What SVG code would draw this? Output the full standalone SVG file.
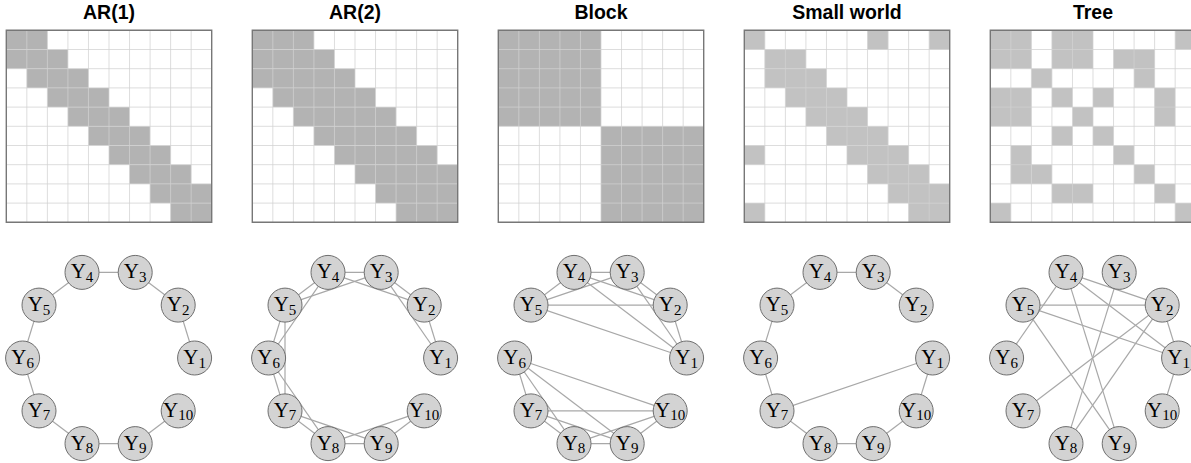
<svg xmlns="http://www.w3.org/2000/svg" xmlns:xlink="http://www.w3.org/1999/xlink" width="1191" height="463" viewBox="0 0 1191 463">
  <style>
    .title { font-family: "Liberation Sans", Arial, sans-serif; font-weight: bold; font-size: 19.5px; fill: #000; text-anchor: middle; }
    .dark { fill: #b3b3b3; }
    .light { fill: #c2c2c2; }
    .grid { fill: none; stroke: #d2d2d2; stroke-opacity: 0.75; stroke-width: 1; vector-effect: non-scaling-stroke; }
    .frame { fill: none; stroke: #777; stroke-width: 1.4; vector-effect: non-scaling-stroke; }
    .edge { stroke: #a8a8a8; stroke-width: 1.2; fill: none; }
    .node circle { fill: #d3d3d3; stroke: #6e6e6e; stroke-width: 1; }
    .node text { font-family: "Liberation Serif", "Times New Roman", serif; font-size: 21px; fill: #000; text-anchor: middle; }
    .node tspan { font-size: 15px; }
  </style>
  <defs>
    <!-- 10x10 grid in unit cells -->
    <g id="grid">
      <path class="grid" d="M1 0V10M2 0V10M3 0V10M4 0V10M5 0V10M6 0V10M7 0V10M8 0V10M9 0V10M0 1H10M0 2H10M0 3H10M0 4H10M0 5H10M0 6H10M0 7H10M0 8H10M0 9H10"/>
      <rect class="frame" x="0" y="0" width="10" height="10"/>
    </g>
  </defs>
  <rect width="1191" height="463" fill="#fff"/>

  <!-- titles -->
  <text class="title" x="109" y="18.5">AR(1)</text>
  <text class="title" x="355" y="18.5">AR(2)</text>
  <text class="title" x="601" y="18.5">Block</text>
  <text class="title" x="847" y="18.5">Small world</text>
  <text class="title" x="1093" y="18.5">Tree</text>

  <!-- adjacency matrices -->
  <g id="matrix-ar1" transform="translate(6.3,30.3) scale(20.54,19.2)">
    <g class="dark">
      <rect x="0" y="0" width="2" height="1"/>
      <rect x="0" y="1" width="3" height="1"/>
      <rect x="1" y="2" width="3" height="1"/>
      <rect x="2" y="3" width="3" height="1"/>
      <rect x="3" y="4" width="3" height="1"/>
      <rect x="4" y="5" width="3" height="1"/>
      <rect x="5" y="6" width="3" height="1"/>
      <rect x="6" y="7" width="3" height="1"/>
      <rect x="7" y="8" width="3" height="1"/>
      <rect x="8" y="9" width="2" height="1"/>
    </g>
    <use xlink:href="#grid"/>
  </g>
  <g id="matrix-ar2" transform="translate(252.3,30.3) scale(20.54,19.2)">
    <g class="dark">
      <rect x="0" y="0" width="3" height="1"/>
      <rect x="0" y="1" width="4" height="1"/>
      <rect x="0" y="2" width="5" height="1"/>
      <rect x="1" y="3" width="5" height="1"/>
      <rect x="2" y="4" width="5" height="1"/>
      <rect x="3" y="5" width="5" height="1"/>
      <rect x="4" y="6" width="5" height="1"/>
      <rect x="5" y="7" width="5" height="1"/>
      <rect x="6" y="8" width="4" height="1"/>
      <rect x="7" y="9" width="3" height="1"/>
    </g>
    <use xlink:href="#grid"/>
  </g>
  <g id="matrix-block" transform="translate(498.3,30.3) scale(20.54,19.2)">
    <g class="dark">
      <rect x="0" y="0" width="5" height="5"/>
      <rect x="5" y="5" width="5" height="5"/>
    </g>
    <use xlink:href="#grid"/>
  </g>
  <g id="matrix-smallworld" transform="translate(744.3,30.3) scale(20.54,19.2)">
    <g class="light">
      <rect x="0" y="0" width="1" height="1"/><rect x="6" y="0" width="1" height="1"/><rect x="9" y="0" width="1" height="1"/>
      <rect x="1" y="1" width="2" height="1"/>
      <rect x="1" y="2" width="3" height="1"/>
      <rect x="2" y="3" width="3" height="1"/>
      <rect x="3" y="4" width="3" height="1"/>
      <rect x="4" y="5" width="3" height="1"/>
      <rect x="0" y="6" width="1" height="1"/><rect x="5" y="6" width="3" height="1"/>
      <rect x="6" y="7" width="3" height="1"/>
      <rect x="7" y="8" width="3" height="1"/>
      <rect x="0" y="9" width="1" height="1"/><rect x="8" y="9" width="2" height="1"/>
    </g>
    <use xlink:href="#grid"/>
  </g>
  <g id="matrix-tree" transform="translate(990.3,30.3) scale(20.54,19.2)">
    <g class="light">
      <rect x="0" y="0" width="2" height="2"/><rect x="3" y="0" width="2" height="2"/><rect x="9" y="0" width="1" height="1"/>
      <rect x="6" y="1" width="2" height="1"/>
      <rect x="2" y="2" width="1" height="1"/><rect x="7" y="2" width="1" height="1"/>
      <rect x="0" y="3" width="2" height="2"/><rect x="3" y="3" width="1" height="1"/><rect x="5" y="3" width="1" height="1"/><rect x="8" y="3" width="1" height="2"/>
      <rect x="4" y="4" width="1" height="1"/>
      <rect x="3" y="5" width="1" height="1"/><rect x="5" y="5" width="1" height="1"/>
      <rect x="1" y="6" width="1" height="2"/><rect x="6" y="6" width="1" height="1"/>
      <rect x="2" y="7" width="1" height="1"/><rect x="7" y="7" width="1" height="1"/>
      <rect x="3" y="8" width="2" height="1"/><rect x="8" y="8" width="1" height="1"/>
      <rect x="0" y="9" width="1" height="1"/><rect x="9" y="9" width="1" height="1"/>
    </g>
    <use xlink:href="#grid"/>
  </g>

  <!-- graph panel 1: AR(1) -->
  <g id="graph-ar1">
    <g id="edges-ar1" class="edge">
      <line x1="194.6" y1="358" x2="178.2" y2="305.1"/>
      <line x1="178.2" y1="305.1" x2="135.2" y2="272.4"/>
      <line x1="135.2" y1="272.4" x2="82" y2="272.4"/>
      <line x1="82" y1="272.4" x2="39" y2="305.1"/>
      <line x1="39" y1="305.1" x2="22.6" y2="358"/>
      <line x1="22.6" y1="358" x2="39" y2="410.9"/>
      <line x1="39" y1="410.9" x2="82" y2="443.6"/>
      <line x1="82" y1="443.6" x2="135.2" y2="443.6"/>
      <line x1="135.2" y1="443.6" x2="178.2" y2="410.9"/>
    </g>
    <g id="ar1-y1" class="node" transform="translate(194.6,358)"><circle r="17"/><text y="6">Y<tspan dy="3.5">1</tspan></text></g>
    <g id="ar1-y2" class="node" transform="translate(178.2,305.1)"><circle r="17"/><text y="6">Y<tspan dy="3.5">2</tspan></text></g>
    <g id="ar1-y3" class="node" transform="translate(135.2,272.4)"><circle r="17"/><text y="6">Y<tspan dy="3.5">3</tspan></text></g>
    <g id="ar1-y4" class="node" transform="translate(82,272.4)"><circle r="17"/><text y="6">Y<tspan dy="3.5">4</tspan></text></g>
    <g id="ar1-y5" class="node" transform="translate(39,305.1)"><circle r="17"/><text y="6">Y<tspan dy="3.5">5</tspan></text></g>
    <g id="ar1-y6" class="node" transform="translate(22.6,358)"><circle r="17"/><text y="6">Y<tspan dy="3.5">6</tspan></text></g>
    <g id="ar1-y7" class="node" transform="translate(39,410.9)"><circle r="17"/><text y="6">Y<tspan dy="3.5">7</tspan></text></g>
    <g id="ar1-y8" class="node" transform="translate(82,443.6)"><circle r="17"/><text y="6">Y<tspan dy="3.5">8</tspan></text></g>
    <g id="ar1-y9" class="node" transform="translate(135.2,443.6)"><circle r="17"/><text y="6">Y<tspan dy="3.5">9</tspan></text></g>
    <g id="ar1-y10" class="node" transform="translate(178.2,410.9)"><circle r="17"/><text y="6">Y<tspan dy="3.5">10</tspan></text></g>
  </g>

  <!-- graph panel 2: AR(2) -->
  <g id="graph-ar2" transform="translate(246,0)">
    <g id="edges-ar2" class="edge">
      <line x1="194.6" y1="358" x2="178.2" y2="305.1"/>
      <line x1="194.6" y1="358" x2="135.2" y2="272.4"/>
      <line x1="178.2" y1="305.1" x2="135.2" y2="272.4"/>
      <line x1="178.2" y1="305.1" x2="82" y2="272.4"/>
      <line x1="135.2" y1="272.4" x2="82" y2="272.4"/>
      <line x1="135.2" y1="272.4" x2="39" y2="305.1"/>
      <line x1="82" y1="272.4" x2="39" y2="305.1"/>
      <line x1="82" y1="272.4" x2="22.6" y2="358"/>
      <line x1="39" y1="305.1" x2="22.6" y2="358"/>
      <line x1="39" y1="305.1" x2="39" y2="410.9"/>
      <line x1="22.6" y1="358" x2="39" y2="410.9"/>
      <line x1="22.6" y1="358" x2="82" y2="443.6"/>
      <line x1="39" y1="410.9" x2="82" y2="443.6"/>
      <line x1="39" y1="410.9" x2="135.2" y2="443.6"/>
      <line x1="82" y1="443.6" x2="135.2" y2="443.6"/>
      <line x1="82" y1="443.6" x2="178.2" y2="410.9"/>
      <line x1="135.2" y1="443.6" x2="178.2" y2="410.9"/>
    </g>
    <g id="ar2-y1" class="node" transform="translate(194.6,358)"><circle r="17"/><text y="6">Y<tspan dy="3.5">1</tspan></text></g>
    <g id="ar2-y2" class="node" transform="translate(178.2,305.1)"><circle r="17"/><text y="6">Y<tspan dy="3.5">2</tspan></text></g>
    <g id="ar2-y3" class="node" transform="translate(135.2,272.4)"><circle r="17"/><text y="6">Y<tspan dy="3.5">3</tspan></text></g>
    <g id="ar2-y4" class="node" transform="translate(82,272.4)"><circle r="17"/><text y="6">Y<tspan dy="3.5">4</tspan></text></g>
    <g id="ar2-y5" class="node" transform="translate(39,305.1)"><circle r="17"/><text y="6">Y<tspan dy="3.5">5</tspan></text></g>
    <g id="ar2-y6" class="node" transform="translate(22.6,358)"><circle r="17"/><text y="6">Y<tspan dy="3.5">6</tspan></text></g>
    <g id="ar2-y7" class="node" transform="translate(39,410.9)"><circle r="17"/><text y="6">Y<tspan dy="3.5">7</tspan></text></g>
    <g id="ar2-y8" class="node" transform="translate(82,443.6)"><circle r="17"/><text y="6">Y<tspan dy="3.5">8</tspan></text></g>
    <g id="ar2-y9" class="node" transform="translate(135.2,443.6)"><circle r="17"/><text y="6">Y<tspan dy="3.5">9</tspan></text></g>
    <g id="ar2-y10" class="node" transform="translate(178.2,410.9)"><circle r="17"/><text y="6">Y<tspan dy="3.5">10</tspan></text></g>
  </g>

  <!-- graph panel 3: Block -->
  <g id="graph-block" transform="translate(492,0)">
    <g id="edges-block" class="edge">
      <line x1="194.6" y1="358" x2="178.2" y2="305.1"/>
      <line x1="194.6" y1="358" x2="135.2" y2="272.4"/>
      <line x1="194.6" y1="358" x2="82" y2="272.4"/>
      <line x1="194.6" y1="358" x2="39" y2="305.1"/>
      <line x1="178.2" y1="305.1" x2="135.2" y2="272.4"/>
      <line x1="178.2" y1="305.1" x2="82" y2="272.4"/>
      <line x1="178.2" y1="305.1" x2="39" y2="305.1"/>
      <line x1="135.2" y1="272.4" x2="82" y2="272.4"/>
      <line x1="135.2" y1="272.4" x2="39" y2="305.1"/>
      <line x1="82" y1="272.4" x2="39" y2="305.1"/>
      <line x1="22.6" y1="358" x2="39" y2="410.9"/>
      <line x1="22.6" y1="358" x2="82" y2="443.6"/>
      <line x1="22.6" y1="358" x2="135.2" y2="443.6"/>
      <line x1="22.6" y1="358" x2="178.2" y2="410.9"/>
      <line x1="39" y1="410.9" x2="82" y2="443.6"/>
      <line x1="39" y1="410.9" x2="135.2" y2="443.6"/>
      <line x1="39" y1="410.9" x2="178.2" y2="410.9"/>
      <line x1="82" y1="443.6" x2="135.2" y2="443.6"/>
      <line x1="82" y1="443.6" x2="178.2" y2="410.9"/>
      <line x1="135.2" y1="443.6" x2="178.2" y2="410.9"/>
    </g>
    <g id="block-y1" class="node" transform="translate(194.6,358)"><circle r="17"/><text y="6">Y<tspan dy="3.5">1</tspan></text></g>
    <g id="block-y2" class="node" transform="translate(178.2,305.1)"><circle r="17"/><text y="6">Y<tspan dy="3.5">2</tspan></text></g>
    <g id="block-y3" class="node" transform="translate(135.2,272.4)"><circle r="17"/><text y="6">Y<tspan dy="3.5">3</tspan></text></g>
    <g id="block-y4" class="node" transform="translate(82,272.4)"><circle r="17"/><text y="6">Y<tspan dy="3.5">4</tspan></text></g>
    <g id="block-y5" class="node" transform="translate(39,305.1)"><circle r="17"/><text y="6">Y<tspan dy="3.5">5</tspan></text></g>
    <g id="block-y6" class="node" transform="translate(22.6,358)"><circle r="17"/><text y="6">Y<tspan dy="3.5">6</tspan></text></g>
    <g id="block-y7" class="node" transform="translate(39,410.9)"><circle r="17"/><text y="6">Y<tspan dy="3.5">7</tspan></text></g>
    <g id="block-y8" class="node" transform="translate(82,443.6)"><circle r="17"/><text y="6">Y<tspan dy="3.5">8</tspan></text></g>
    <g id="block-y9" class="node" transform="translate(135.2,443.6)"><circle r="17"/><text y="6">Y<tspan dy="3.5">9</tspan></text></g>
    <g id="block-y10" class="node" transform="translate(178.2,410.9)"><circle r="17"/><text y="6">Y<tspan dy="3.5">10</tspan></text></g>
  </g>

  <!-- graph panel 4: Small world -->
  <g id="graph-smallworld" transform="translate(738,0)">
    <g id="edges-smallworld" class="edge">
      <line x1="178.2" y1="305.1" x2="135.2" y2="272.4"/>
      <line x1="135.2" y1="272.4" x2="82" y2="272.4"/>
      <line x1="82" y1="272.4" x2="39" y2="305.1"/>
      <line x1="39" y1="305.1" x2="22.6" y2="358"/>
      <line x1="22.6" y1="358" x2="39" y2="410.9"/>
      <line x1="39" y1="410.9" x2="82" y2="443.6"/>
      <line x1="82" y1="443.6" x2="135.2" y2="443.6"/>
      <line x1="135.2" y1="443.6" x2="178.2" y2="410.9"/>
      <line x1="178.2" y1="410.9" x2="194.6" y2="358"/>
      <line x1="194.6" y1="358" x2="39" y2="410.9"/>
    </g>
    <g id="sw-y1" class="node" transform="translate(194.6,358)"><circle r="17"/><text y="6">Y<tspan dy="3.5">1</tspan></text></g>
    <g id="sw-y2" class="node" transform="translate(178.2,305.1)"><circle r="17"/><text y="6">Y<tspan dy="3.5">2</tspan></text></g>
    <g id="sw-y3" class="node" transform="translate(135.2,272.4)"><circle r="17"/><text y="6">Y<tspan dy="3.5">3</tspan></text></g>
    <g id="sw-y4" class="node" transform="translate(82,272.4)"><circle r="17"/><text y="6">Y<tspan dy="3.5">4</tspan></text></g>
    <g id="sw-y5" class="node" transform="translate(39,305.1)"><circle r="17"/><text y="6">Y<tspan dy="3.5">5</tspan></text></g>
    <g id="sw-y6" class="node" transform="translate(22.6,358)"><circle r="17"/><text y="6">Y<tspan dy="3.5">6</tspan></text></g>
    <g id="sw-y7" class="node" transform="translate(39,410.9)"><circle r="17"/><text y="6">Y<tspan dy="3.5">7</tspan></text></g>
    <g id="sw-y8" class="node" transform="translate(82,443.6)"><circle r="17"/><text y="6">Y<tspan dy="3.5">8</tspan></text></g>
    <g id="sw-y9" class="node" transform="translate(135.2,443.6)"><circle r="17"/><text y="6">Y<tspan dy="3.5">9</tspan></text></g>
    <g id="sw-y10" class="node" transform="translate(178.2,410.9)"><circle r="17"/><text y="6">Y<tspan dy="3.5">10</tspan></text></g>
  </g>

  <!-- graph panel 5: Tree -->
  <g id="graph-tree" transform="translate(984,0)">
    <g id="edges-tree" class="edge">
      <line x1="194.6" y1="358" x2="178.2" y2="305.1"/>
      <line x1="194.6" y1="358" x2="82" y2="272.4"/>
      <line x1="194.6" y1="358" x2="39" y2="305.1"/>
      <line x1="194.6" y1="358" x2="178.2" y2="410.9"/>
      <line x1="178.2" y1="305.1" x2="82" y2="272.4"/>
      <line x1="178.2" y1="305.1" x2="39" y2="305.1"/>
      <line x1="178.2" y1="305.1" x2="39" y2="410.9"/>
      <line x1="178.2" y1="305.1" x2="82" y2="443.6"/>
      <line x1="135.2" y1="272.4" x2="82" y2="443.6"/>
      <line x1="82" y1="272.4" x2="22.6" y2="358"/>
      <line x1="82" y1="272.4" x2="135.2" y2="443.6"/>
      <line x1="39" y1="305.1" x2="135.2" y2="443.6"/>
    </g>
    <g id="tree-y1" class="node" transform="translate(194.6,358)"><circle r="17"/><text y="6">Y<tspan dy="3.5">1</tspan></text></g>
    <g id="tree-y2" class="node" transform="translate(178.2,305.1)"><circle r="17"/><text y="6">Y<tspan dy="3.5">2</tspan></text></g>
    <g id="tree-y3" class="node" transform="translate(135.2,272.4)"><circle r="17"/><text y="6">Y<tspan dy="3.5">3</tspan></text></g>
    <g id="tree-y4" class="node" transform="translate(82,272.4)"><circle r="17"/><text y="6">Y<tspan dy="3.5">4</tspan></text></g>
    <g id="tree-y5" class="node" transform="translate(39,305.1)"><circle r="17"/><text y="6">Y<tspan dy="3.5">5</tspan></text></g>
    <g id="tree-y6" class="node" transform="translate(22.6,358)"><circle r="17"/><text y="6">Y<tspan dy="3.5">6</tspan></text></g>
    <g id="tree-y7" class="node" transform="translate(39,410.9)"><circle r="17"/><text y="6">Y<tspan dy="3.5">7</tspan></text></g>
    <g id="tree-y8" class="node" transform="translate(82,443.6)"><circle r="17"/><text y="6">Y<tspan dy="3.5">8</tspan></text></g>
    <g id="tree-y9" class="node" transform="translate(135.2,443.6)"><circle r="17"/><text y="6">Y<tspan dy="3.5">9</tspan></text></g>
    <g id="tree-y10" class="node" transform="translate(178.2,410.9)"><circle r="17"/><text y="6">Y<tspan dy="3.5">10</tspan></text></g>
  </g>
</svg>
